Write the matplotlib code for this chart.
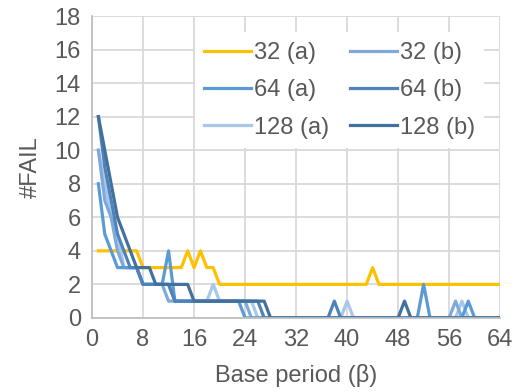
import matplotlib
matplotlib.use("Agg")
import matplotlib.pyplot as plt

plt.rcParams['font.family'] = ['Liberation Sans', 'DejaVu Sans']

# base period 1..64
x = list(range(1, 65))

def series(head, tail_level, tail_from, spikes):
    # head: explicit values from x=1, then tail_level until tail_from, then 0
    vals = list(head)
    while len(vals) < tail_from - 1:
        vals.append(tail_level)
    while len(vals) < 64:
        vals.append(0)
    for k, v in spikes.items():
        vals[k - 1] = v
    return vals

a32 = [4] * 7 + [3] * 7 + [4, 3, 4, 3, 3] + [2] * 24 + [3] + [2] * 20
b32 = series([10, 7, 6, 4, 3, 3, 3, 2, 2, 2, 2], 1, 25, {57: 1})
a64 = series([8, 5, 4, 3, 3, 3, 3, 2, 2, 2, 2, 4], 1, 24, {52: 2, 59: 1})
b64 = series([12, 9, 7, 5, 4, 3, 3, 2, 2, 2, 2, 2], 1, 27, {38: 1})
a128 = series([10, 8, 6, 5, 3, 3, 3, 2, 2, 2, 2, 2, 1, 1, 1, 1, 1, 1, 2], 1, 26, {40: 1, 58: 1})
b128 = series([12, 10, 8, 6, 5, 4, 3, 3, 3, 2, 2, 2, 2, 2, 2], 1, 28, {49: 1})

names = ['32 (a)', '32 (b)', '64 (a)', '64 (b)', '128 (a)', '128 (b)']
data = [a32, b32, a64, b64, a128, b128]
colors = ['#FFC000', '#7EA9DA', '#5B9BD5', '#4D82BA', '#A9C7EA', '#41719C']

fig = plt.figure(figsize=(5.21, 3.92), dpi=100)
ax = fig.add_axes([0.1766, 0.189, 0.7834, 0.770])

order = [0, 4, 1, 2, 3, 5]
lines = {}
for i in order:
    ln, = ax.plot(x, data[i], color=colors[i], lw=2.3, label=names[i])
    lines[i] = ln

ax.set_xlim(0, 64)
ax.set_ylim(0, 18)
ax.set_xticks(range(0, 65, 8))
ax.set_yticks(range(0, 19, 2))
ax.grid(True, color='#D9D9D9', lw=1.3)
ax.set_axisbelow(True)
for s in ['top', 'right']:
    ax.spines[s].set_visible(False)
for s in ['left', 'bottom']:
    ax.spines[s].set_color('#BFBFBF')
    ax.spines[s].set_linewidth(1.3)
ax.tick_params(length=0, labelsize=17, colors='#595959', pad=8)
ax.set_xlabel('Base period (β)', fontsize=17, color='#595959', labelpad=9)
ax.set_ylabel('#FAIL', fontsize=17, color='#595959', labelpad=9)

# legend fills column-wise, so order to read row-wise
leg_idx = [0, 2, 4, 1, 3, 5]
handles = [lines[i] for i in leg_idx]
labels = [names[i] for i in leg_idx]
leg = ax.legend(handles, labels, ncol=2, loc='upper right',
                bbox_to_anchor=(0.99, 0.985), fontsize=17, frameon=True,
                handlelength=2.0, handletextpad=0.1, columnspacing=0.9,
                labelspacing=0.65, borderpad=0.4, fancybox=False)
leg.get_frame().set_facecolor('white')
leg.get_frame().set_edgecolor('none')
leg.get_frame().set_alpha(1)
for t in leg.get_texts():
    t.set_color('#595959')

fig.savefig('out.png', dpi=100)
